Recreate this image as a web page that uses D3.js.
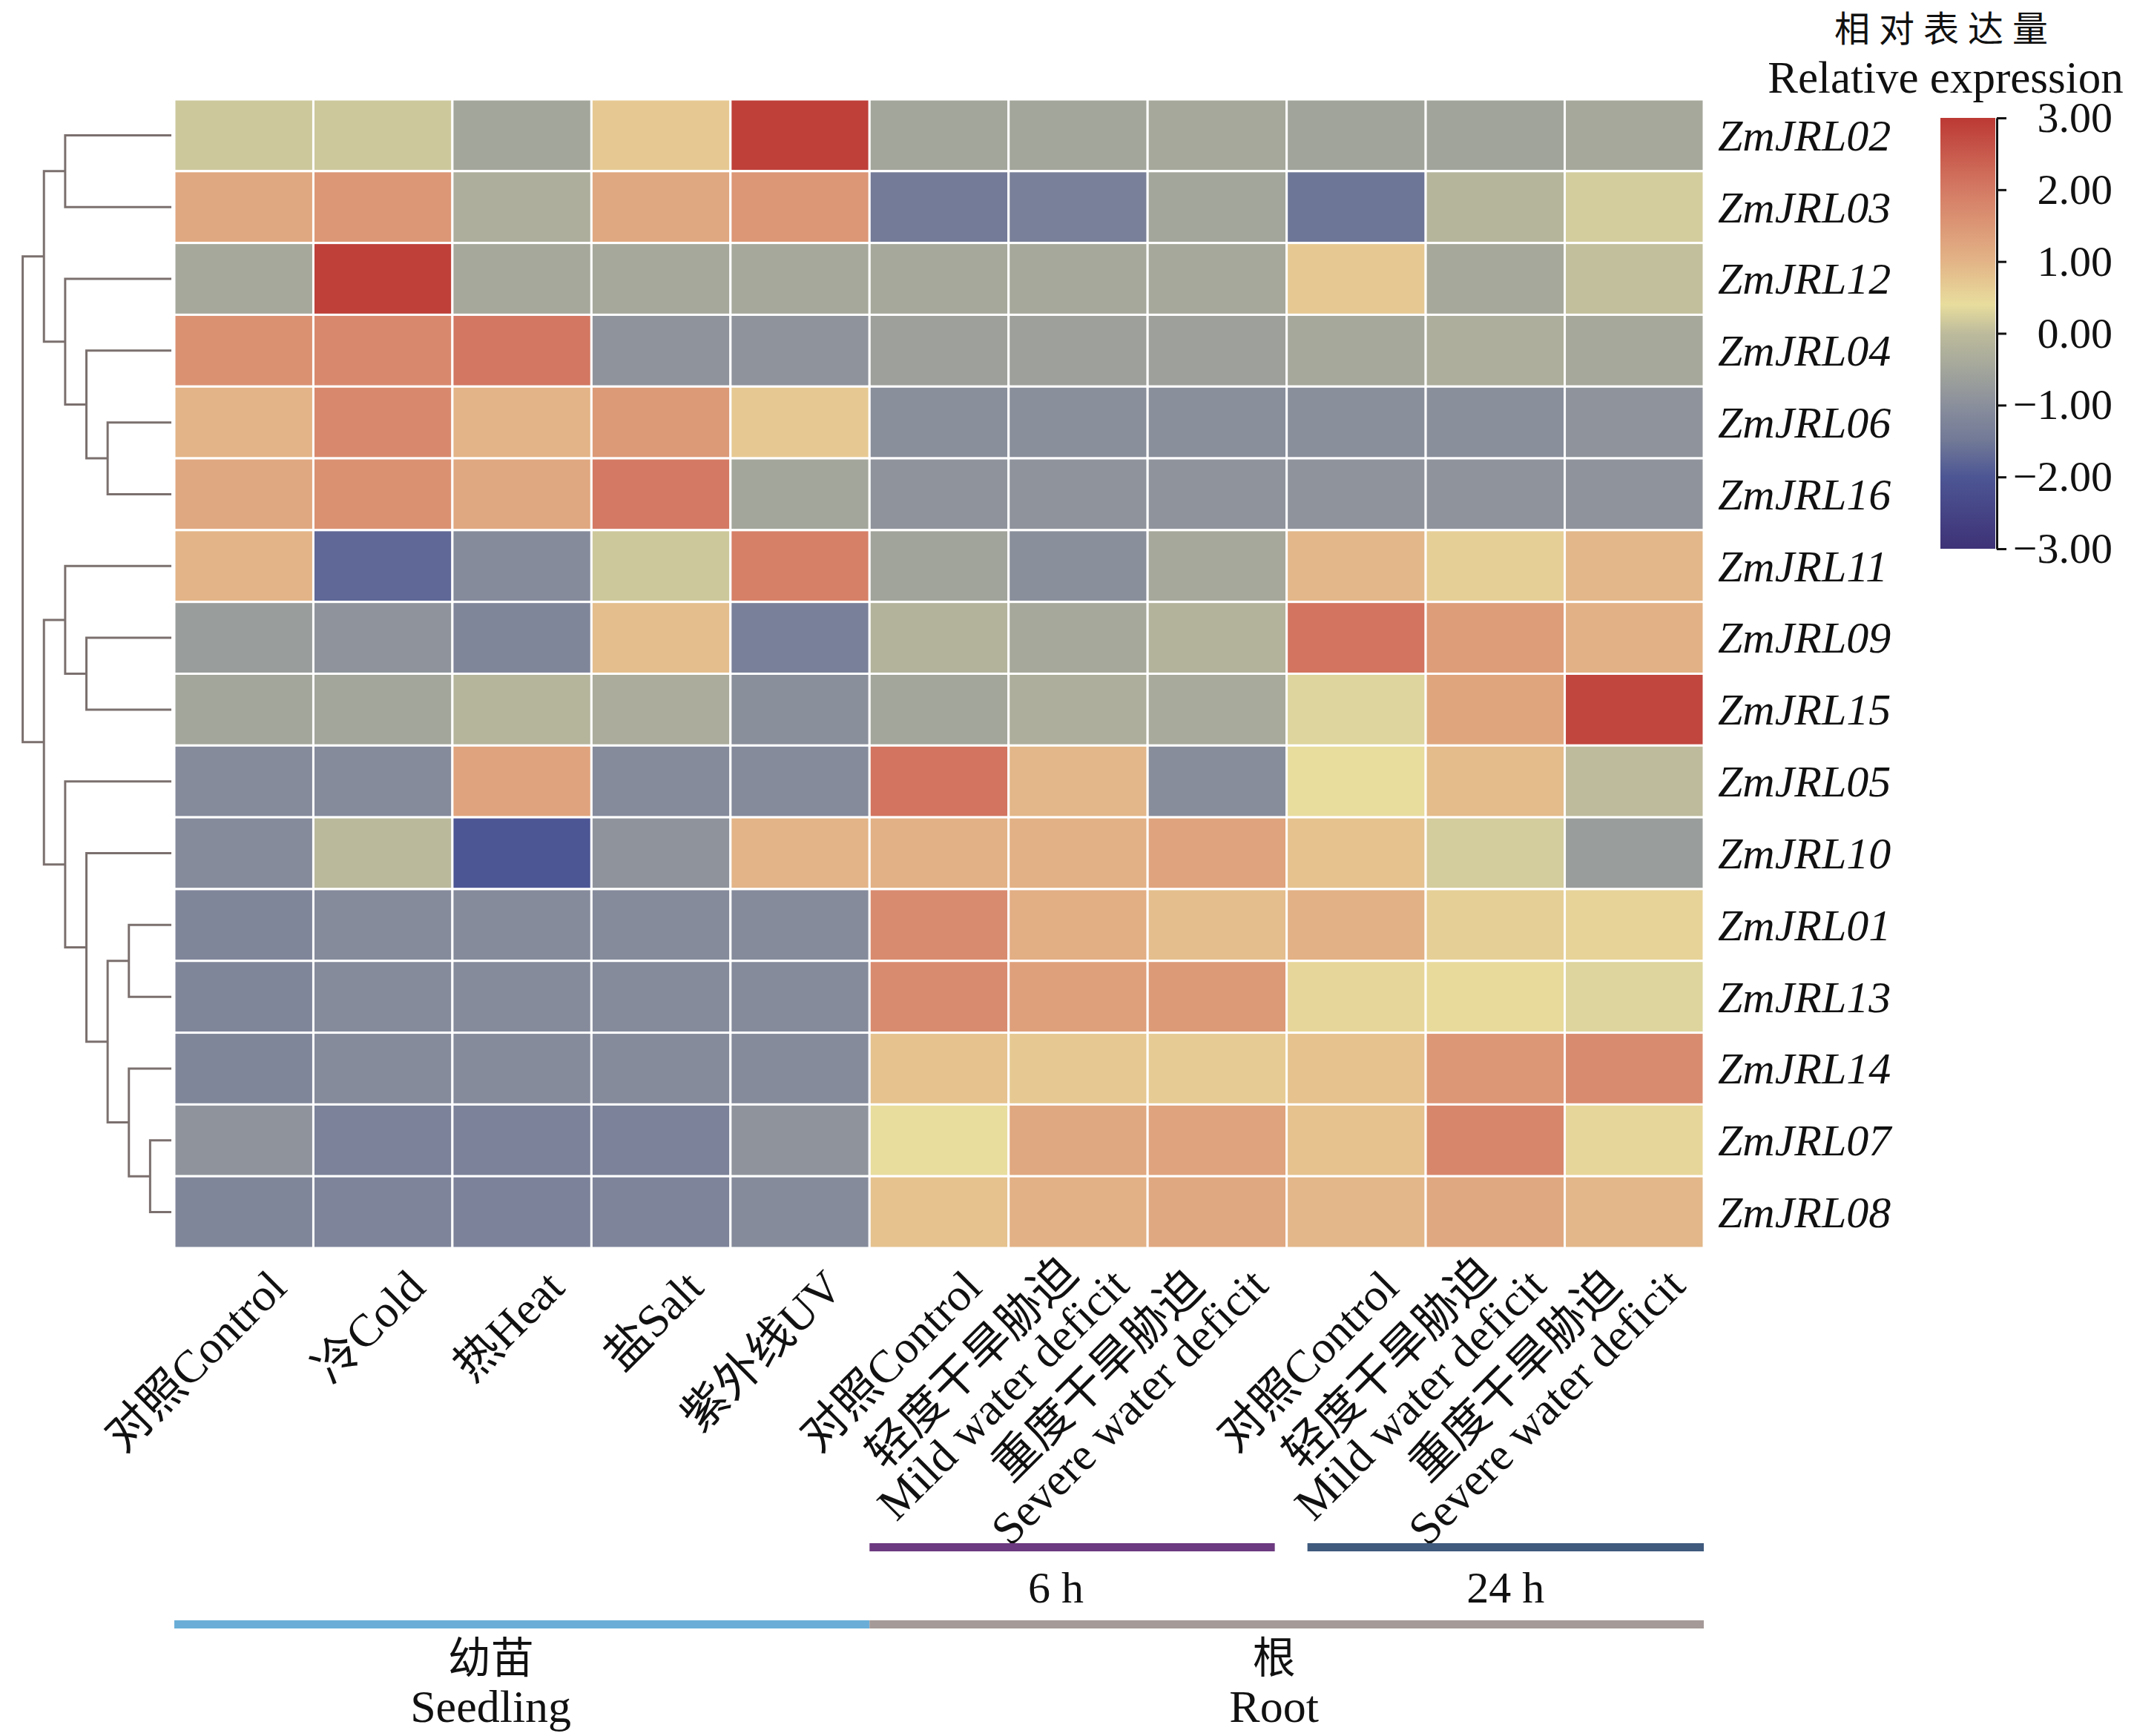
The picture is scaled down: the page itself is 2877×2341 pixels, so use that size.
<!DOCTYPE html>
<html>
<head>
<meta charset="utf-8">
<script src="https://cdn.jsdelivr.net/npm/d3@7"></script>
<style>
  body { margin: 0; background: #fff; }
</style>
</head>
<body>
<div id="chart"></div>
<script>
// Data
const genes = ["ZmJRL02", "ZmJRL03", "ZmJRL12", "ZmJRL04", "ZmJRL06", "ZmJRL16", "ZmJRL11", "ZmJRL09",
  "ZmJRL15", "ZmJRL05", "ZmJRL10", "ZmJRL01", "ZmJRL13", "ZmJRL14", "ZmJRL07", "ZmJRL08"];

const conditions = [
  ["对照Control"], ["冷Cold"], ["热Heat"], ["盐Salt"], ["紫外线UV"],
  ["对照Control"], ["轻度干旱胁迫", "Mild water deficit"], ["重度干旱胁迫", "Severe water deficit"],
  ["对照Control"], ["轻度干旱胁迫", "Mild water deficit"], ["重度干旱胁迫", "Severe water deficit"]
];

// relative expression, one row per gene, one value per condition
const expression = [
  [0.15, 0.15, -0.5, 0.7, 2.9, -0.5, -0.5, -0.45, -0.55, -0.55, -0.45],
  [1.2, 1.5, -0.3, 1.2, 1.5, -1.45, -1.35, -0.5, -1.55, -0.15, 0.2],
  [-0.45, 2.9, -0.45, -0.45, -0.45, -0.45, -0.45, -0.45, 0.7, -0.45, 0.05],
  [1.6, 1.75, 2.05, -0.9, -0.9, -0.6, -0.6, -0.6, -0.45, -0.3, -0.45],
  [1.0, 1.75, 1.0, 1.45, 0.7, -1.0, -1.0, -1.0, -1.0, -1.0, -0.9],
  [1.2, 1.6, 1.2, 2.0, -0.5, -0.9, -0.9, -0.9, -0.9, -0.9, -0.9],
  [1.0, -1.75, -1.1, 0.15, 1.9, -0.55, -1.0, -0.45, 0.95, 0.6, 0.95],
  [-0.7, -0.9, -1.2, 0.85, -1.35, -0.2, -0.45, -0.2, 2.1, 1.4, 1.05],
  [-0.5, -0.5, -0.15, -0.35, -1.0, -0.5, -0.3, -0.4, 0.3, 1.25, 2.8],
  [-1.1, -1.1, 1.3, -1.1, -1.1, 2.1, 0.95, -1.05, 0.4, 0.9, 0.0],
  [-1.1, -0.05, -2.0, -0.9, 1.0, 1.05, 1.05, 1.3, 0.8, 0.2, -0.7],
  [-1.2, -1.1, -1.1, -1.1, -1.1, 1.7, 1.1, 0.85, 1.05, 0.6, 0.55],
  [-1.2, -1.1, -1.1, -1.1, -1.1, 1.7, 1.35, 1.45, 0.5, 0.45, 0.3],
  [-1.2, -1.1, -1.1, -1.1, -1.1, 0.8, 0.7, 0.65, 0.8, 1.5, 1.7],
  [-0.9, -1.3, -1.3, -1.3, -0.9, 0.4, 1.2, 1.3, 0.8, 1.8, 0.5],
  [-1.2, -1.25, -1.3, -1.25, -1.1, 0.8, 1.05, 1.2, 0.95, 1.2, 0.95]
];

// row dendrogram: [merge height, left, right]
const tree = [7,
  [6, [5, "ZmJRL02", "ZmJRL03"], [5, "ZmJRL12", [4, "ZmJRL04", [3, "ZmJRL06", "ZmJRL16"]]]],
  [6, [5, "ZmJRL11", [4, "ZmJRL09", "ZmJRL15"]],
      [5, "ZmJRL05", [4, "ZmJRL10", [3, [2, "ZmJRL01", "ZmJRL13"], [2, "ZmJRL14", [1, "ZmJRL07", "ZmJRL08"]]]]]]
];

const colorbarTicks = [3, 2, 1, 0, -1, -2, -3];
const colorDomain = [-3, -2, -1.5, -1, -0.5, 0, 0.4, 1, 2, 3];
const colorRange = ["#3e3277", "#4d5694", "#717997", "#8a8f9c", "#a3a69b", "#bdbb9c", "#e8dd9d", "#e3b487", "#d47a64", "#bc3934"];

const legendTitle = ["相对表达量", "Relative expression"];
const timeGroups = ["6 h", "24 h"];
const timeSpans = [[5, 8], [8, 11]];
const tissueGroups = [["幼苗", "Seedling"], ["根", "Root"]];
const tissueSpans = [[0, 5], [5, 11]];

// Layout
const W = 2877, H = 2341;
const serif = "'Liberation Serif','Times New Roman','Noto Sans CJK SC',serif";
const timeColors = ["#6c3a80", "#3f5a7d"];
const tissueColors = ["#6aaed8", "#a59a98"];

const svg = d3.select("#chart").append("svg")
    .attr("width", W)
    .attr("height", H)
    .attr("font-family", serif)
    .style("background", "#fff");

const x = d3.scaleBand().domain(d3.range(conditions.length)).range([235, 2297]);
const y = d3.scaleBand().domain(genes).range([134, 1683]);
const color = d3.scaleLinear().domain(colorDomain).range(colorRange).interpolate(d3.interpolateRgb);

// Heatmap cells
const cells = [];
expression.forEach((row, i) => row.forEach((v, j) => cells.push({gene: genes[i], col: j, v: v})));
svg.append("g").selectAll("rect")
  .data(cells)
  .join("rect")
    .attr("x", d => x(d.col))
    .attr("y", d => y(d.gene))
    .attr("width", x.bandwidth())
    .attr("height", y.bandwidth())
    .attr("fill", d => color(d.v))
    .attr("stroke", "#fff")
    .attr("stroke-width", 3);

// Gene labels
svg.append("g").selectAll("text")
  .data(genes)
  .join("text")
    .attr("x", 2316)
    .attr("y", d => y(d) + y.bandwidth() / 2)
    .attr("dy", "0.34em")
    .attr("font-size", 60)
    .attr("font-style", "italic")
    .attr("fill", "#111")
    .text(d => d);

// Dendrogram
const root = d3.hierarchy(tree, d => Array.isArray(d) ? d.slice(1) : null);
const hx = d3.scaleLinear().domain([0, 7]).range([231, 30.6]);
root.eachAfter(n => {
  if (n.children) {
    n.h = n.data[0];
    n.py = d3.mean(n.children, c => c.py);
  } else {
    n.h = 0;
    n.py = y(n.data) + y.bandwidth() / 2;
  }
});
const dg = svg.append("g")
    .attr("fill", "none")
    .attr("stroke", "#7b706e")
    .attr("stroke-width", 3);
root.descendants().filter(n => n.children).forEach(n => {
  const [a, b] = n.children;
  dg.append("path")
    .attr("d", `M${hx(a.h)},${a.py}H${hx(n.h)}V${b.py}H${hx(b.h)}`);
});

// Column labels, rotated
const xl = svg.append("g")
    .attr("font-size", 62)
    .attr("fill", "#111")
  .selectAll("g")
  .data(conditions)
  .join("g")
    .attr("transform", (d, i) => `translate(${x(i) + x.bandwidth() / 2 + 45},1724) rotate(-45)`);
xl.each(function(lines) {
  const g = d3.select(this);
  const n = lines.length;
  const texts = lines.map((t, k) => g.append("text")
    .attr("y", n > 1 ? (k - 0.5) * 60 - 24 : 0)
    .attr("dy", "0.35em")
    .attr("text-anchor", "end")
    .text(t));
  const widths = texts.map(t => t.node().getComputedTextLength());
  const maxW = d3.max(widths);
  const shift = n > 1 ? 10 : 0;
  texts.forEach((t, k) => t.attr("x", shift - (maxW - widths[k]) / 2));
});

// Time bars (6 h / 24 h)
const timeInset = [[0, 16], [28, 0]];
timeGroups.forEach((label, i) => {
  const x0 = x(timeSpans[i][0]) + timeInset[i][0];
  const x1 = x(timeSpans[i][1] - 1) + x.bandwidth() - timeInset[i][1];
  svg.append("rect")
    .attr("x", x0).attr("y", 2081)
    .attr("width", x1 - x0).attr("height", 11)
    .attr("fill", timeColors[i]);
  svg.append("text")
    .attr("x", (x0 + x1) / 2 + (i === 0 ? -22 : 0))
    .attr("y", 2161)
    .attr("text-anchor", "middle")
    .attr("font-size", 60)
    .attr("fill", "#111")
    .text(label);
});

// Tissue bars (Seedling / Root)
const tissueShift = [-42, -17];
tissueGroups.forEach((lines, i) => {
  const x0 = x(tissueSpans[i][0]);
  const x1 = x(tissueSpans[i][1] - 1) + x.bandwidth();
  svg.append("rect")
    .attr("x", x0).attr("y", 2185)
    .attr("width", x1 - x0).attr("height", 11)
    .attr("fill", tissueColors[i]);
  const cx = (x0 + x1) / 2 + tissueShift[i];
  svg.append("text")
    .attr("x", cx).attr("y", 2256)
    .attr("text-anchor", "middle")
    .attr("font-size", 58)
    .attr("font-family", "'Noto Sans CJK SC',sans-serif")
    .attr("fill", "#111")
    .text(lines[0]);
  svg.append("text")
    .attr("x", cx).attr("y", 2322)
    .attr("text-anchor", "middle")
    .attr("font-size", 62)
    .attr("fill", "#111")
    .text(lines[1]);
});

// Colour bar legend
const cy = d3.scaleLinear().domain([-3, 3]).range([740, 159]);
const grad = svg.append("defs").append("linearGradient")
    .attr("id", "cbar")
    .attr("x1", 0).attr("y1", 1).attr("x2", 0).attr("y2", 0);
grad.selectAll("stop")
  .data(colorDomain)
  .join("stop")
    .attr("offset", d => (d + 3) / 6)
    .attr("stop-color", d => color(d));
svg.append("rect")
    .attr("x", 2616).attr("y", cy(3))
    .attr("width", 74).attr("height", cy(-3) - cy(3))
    .attr("fill", "url(#cbar)");
const axis = svg.append("g")
    .attr("transform", "translate(2692,0)")
    .call(d3.axisRight(cy).tickValues(colorbarTicks).tickFormat(d3.format(".2f")).tickSize(13).tickSizeOuter(0));
axis.select(".domain").attr("stroke", "#111").attr("stroke-width", 3);
axis.selectAll(".tick line").attr("stroke", "#111").attr("stroke-width", 3);
axis.selectAll(".tick text")
    .attr("x", 156)
    .attr("text-anchor", "end")
    .attr("font-size", 58)
    .attr("font-family", serif)
    .attr("fill", "#111");

svg.append("text")
    .attr("x", 2623).attr("y", 56)
    .attr("text-anchor", "middle")
    .attr("font-size", 48)
    .attr("letter-spacing", 12)
    .attr("font-family", "'Noto Sans CJK SC',sans-serif")
    .attr("fill", "#111")
    .text(legendTitle[0]);
svg.append("text")
    .attr("x", 2623).attr("y", 125)
    .attr("text-anchor", "middle")
    .attr("font-size", 61)
    .attr("fill", "#111")
    .text(legendTitle[1]);
</script>
</body>
</html>
